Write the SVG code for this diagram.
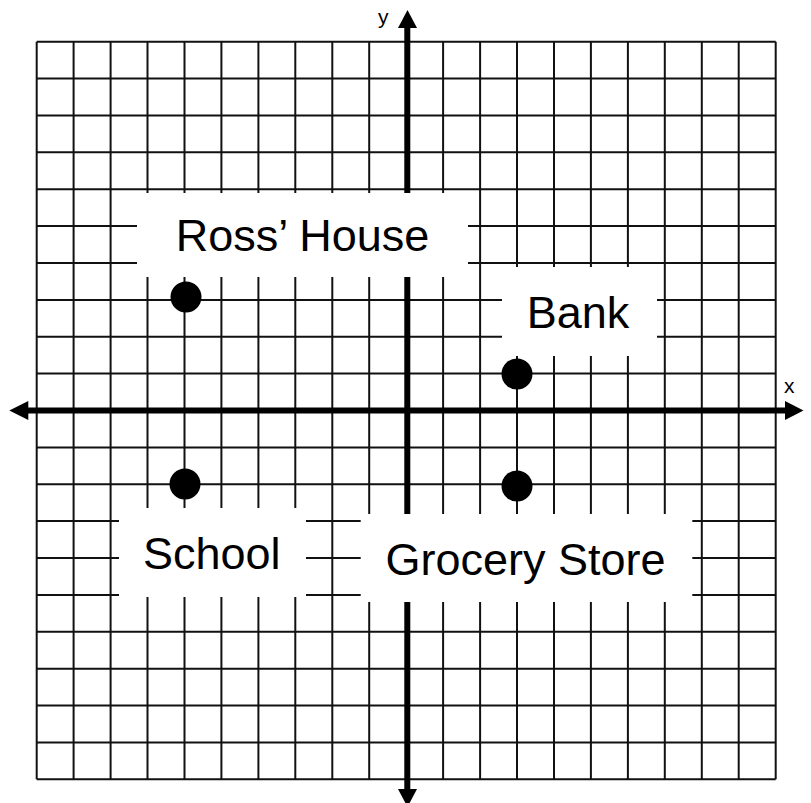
<svg xmlns="http://www.w3.org/2000/svg" width="811" height="803" viewBox="0 0 811 803">
<style>
.grid line{stroke:#111;stroke-width:2}
.axis{stroke:#000;stroke-width:6}
.box{fill:#fff}
.lbl{font-family:"Liberation Sans",Arial,sans-serif;font-size:45px;fill:#000;text-anchor:middle}
.ax{font-family:"Liberation Sans",Arial,sans-serif;font-size:21px;fill:#000}
.dot{fill:#000}
</style>
<rect width="811" height="803" fill="#fff"/>
<g class="grid" id="grid">
<line x1="36.7" y1="41.7" x2="36.7" y2="779.3"/>
<line x1="73.6" y1="41.7" x2="73.6" y2="779.3"/>
<line x1="110.6" y1="41.7" x2="110.6" y2="779.3"/>
<line x1="147.5" y1="41.7" x2="147.5" y2="779.3"/>
<line x1="184.5" y1="41.7" x2="184.5" y2="779.3"/>
<line x1="221.4" y1="41.7" x2="221.4" y2="779.3"/>
<line x1="258.4" y1="41.7" x2="258.4" y2="779.3"/>
<line x1="295.3" y1="41.7" x2="295.3" y2="779.3"/>
<line x1="332.3" y1="41.7" x2="332.3" y2="779.3"/>
<line x1="369.2" y1="41.7" x2="369.2" y2="779.3"/>
<line x1="406.2" y1="41.7" x2="406.2" y2="779.3"/>
<line x1="443.1" y1="41.7" x2="443.1" y2="779.3"/>
<line x1="480.1" y1="41.7" x2="480.1" y2="779.3"/>
<line x1="517.0" y1="41.7" x2="517.0" y2="779.3"/>
<line x1="554.0" y1="41.7" x2="554.0" y2="779.3"/>
<line x1="590.9" y1="41.7" x2="590.9" y2="779.3"/>
<line x1="627.9" y1="41.7" x2="627.9" y2="779.3"/>
<line x1="664.8" y1="41.7" x2="664.8" y2="779.3"/>
<line x1="701.8" y1="41.7" x2="701.8" y2="779.3"/>
<line x1="738.7" y1="41.7" x2="738.7" y2="779.3"/>
<line x1="775.7" y1="41.7" x2="775.7" y2="779.3"/>
<line x1="36.7" y1="41.7" x2="775.7" y2="41.7"/>
<line x1="36.7" y1="78.6" x2="775.7" y2="78.6"/>
<line x1="36.7" y1="115.5" x2="775.7" y2="115.5"/>
<line x1="36.7" y1="152.3" x2="775.7" y2="152.3"/>
<line x1="36.7" y1="189.2" x2="775.7" y2="189.2"/>
<line x1="36.7" y1="226.1" x2="775.7" y2="226.1"/>
<line x1="36.7" y1="263.0" x2="775.7" y2="263.0"/>
<line x1="36.7" y1="299.9" x2="775.7" y2="299.9"/>
<line x1="36.7" y1="336.7" x2="775.7" y2="336.7"/>
<line x1="36.7" y1="373.6" x2="775.7" y2="373.6"/>
<line x1="36.7" y1="410.5" x2="775.7" y2="410.5"/>
<line x1="36.7" y1="447.4" x2="775.7" y2="447.4"/>
<line x1="36.7" y1="484.3" x2="775.7" y2="484.3"/>
<line x1="36.7" y1="521.1" x2="775.7" y2="521.1"/>
<line x1="36.7" y1="558.0" x2="775.7" y2="558.0"/>
<line x1="36.7" y1="594.9" x2="775.7" y2="594.9"/>
<line x1="36.7" y1="631.8" x2="775.7" y2="631.8"/>
<line x1="36.7" y1="668.7" x2="775.7" y2="668.7"/>
<line x1="36.7" y1="705.5" x2="775.7" y2="705.5"/>
<line x1="36.7" y1="742.4" x2="775.7" y2="742.4"/>
<line x1="36.7" y1="779.3" x2="775.7" y2="779.3"/>
</g>
<g id="axes">
<line class="axis" x1="407.3" y1="27" x2="407.3" y2="790"/>
<line class="axis" x1="27" y1="410.5" x2="786" y2="410.5"/>
<polygon points="398,28 417,28 407.5,10" fill="#000"/>
<polygon points="398,789 417,789 407.5,807" fill="#000"/>
<polygon points="785,401 785,420 803.5,410.5" fill="#000"/>
<polygon points="28.3,401 28.3,420 9.3,410.5" fill="#000"/>
<text class="ax" x="378" y="24">y</text>
<text class="ax" x="784" y="393">x</text>
</g>
<g id="ross-house">
<rect class="box" x="137" y="193" width="331" height="84"/>
<text class="lbl" x="302.5" y="251">Ross’ House</text>
<circle class="dot" cx="186" cy="297" r="15.5"/>
</g>
<g id="bank">
<rect class="box" x="502" y="267" width="155" height="89"/>
<text class="lbl" x="578" y="328">Bank</text>
<circle class="dot" cx="517" cy="374" r="15.5"/>
</g>
<g id="school">
<rect class="box" x="119" y="508" width="187" height="89"/>
<text class="lbl" x="211.7" y="569">School</text>
<circle class="dot" cx="185" cy="484" r="15.5"/>
</g>
<g id="grocery-store">
<rect class="box" x="360.7" y="514" width="331.6" height="88"/>
<text class="lbl" x="525.5" y="575">Grocery Store</text>
<circle class="dot" cx="517" cy="486" r="15.5"/>
</g>
</svg>
